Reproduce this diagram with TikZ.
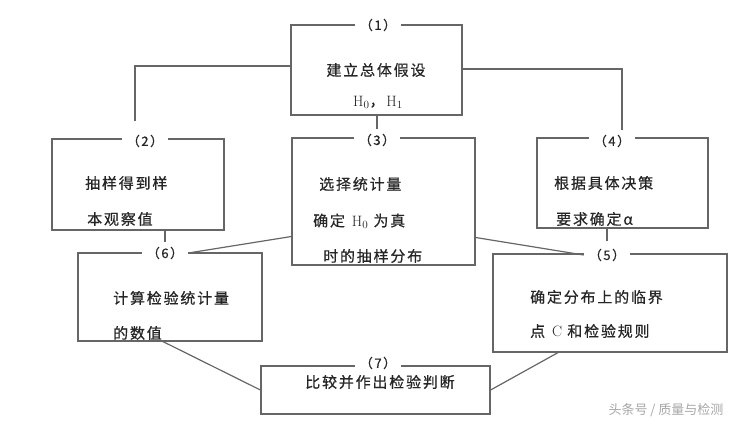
\documentclass[tikz,border=0pt]{standalone}
\usepackage{fontspec}
\newfontfamily\cjk[LetterSpace=12,FakeBold=0.6]{Noto Sans CJK SC}
\newfontfamily\cjkwm{Noto Sans CJK SC}
\begin{document}
\begin{tikzpicture}[x=1pt,y=-1pt,
  box/.style={draw=black!60,line width=1.2pt,inner sep=0pt},
  tag/.style={fill=white,inner xsep=5pt,inner ysep=1pt,text=black!85,font=\cjk\fontsize{13}{13}\selectfont},
  txt/.style={anchor=west,inner sep=0pt,text=black!85,font=\cjk\fontsize{15}{15}\selectfont},
  link/.style={draw=black!60,line width=1.2pt}]
\useasboundingbox (0,0) rectangle (750,427);
\node[box,minimum width=171pt,minimum height=90pt] (s1) at (376.5,70) {};
\node[box,minimum width=172pt,minimum height=91pt] (s2) at (138,184.5) {};
\node[box,minimum width=183pt,minimum height=127pt] (s3) at (383.5,201.5) {};
\node[box,minimum width=171pt,minimum height=90pt] (s4) at (622.5,183) {};
\node[box,minimum width=184pt,minimum height=88pt] (s6) at (170,297) {};
\node[box,minimum width=234pt,minimum height=98pt] (s5) at (610,303) {};
\node[box,minimum width=229pt,minimum height=48pt] (s7) at (375.5,390) {};
\node[tag] (n1) at (378,25) {（1）};
\node[tag] (n2) at (145,141) {（2）};
\node[tag] (n3) at (377,140) {（3）};
\node[tag] (n4) at (612,141) {（4）};
\node[tag] (n6) at (165,253) {（6）};
\node[tag] (n5) at (607,255) {（5）};
\node[tag] (n7) at (378,363) {（7）};
\node[txt,anchor=center] (t1a) at (376,70) {建立总体假设};
\node[txt,anchor=center] (t1b) at (378,102) {\textrm{H}$_0$，\textrm{H}$_1$};
\node[txt] (t2a) at (85,183) {抽样得到样};
\node[txt] (t2b) at (87,219) {本观察值};
\node[txt] (t3a) at (319,184) {选择统计量};
\node[txt] (t3b) at (313,221) {确定 \textrm{H}$_0$ 为真};
\node[txt] (t3c) at (323,256) {时的抽样分布};
\node[txt] (t4a) at (554,183) {根据具体决策};
\node[txt] (t4b) at (556,219) {要求确定α};
\node[txt] (t6a) at (113,298) {计算检验统计量};
\node[txt] (t6b) at (113,333) {的数值};
\node[txt] (t5a) at (530,297) {确定分布上的临界};
\node[txt] (t5b) at (530,331) {点 \textrm{C} 和检验规则};
\node[txt,anchor=center] (t7) at (380,382) {比较并作出检验判断};
\node[txt,anchor=center,text=black!35,font=\cjkwm\fontsize{13}{13}\selectfont] (wm) at (666,410) {头条号 / 质量与检测};
\coordinate (c2) at (135,121);
\coordinate (c4) at (622,130);
\draw[link] ([yshift=4pt]s1.west) -| (c2);
\draw[link] ([yshift=1pt]s1.east) -| (c4);
\draw[link] (s1.south -| n3) -- ++(0,13);
\draw[link] (s2.south -| n6) -- ++(0,11);
\draw[link] (s4.south -| n5) -- ++(0,12);
\draw[link] ([yshift=-35pt]s3.west) -- (n6.east);
\draw[link] ([yshift=-36pt]s3.east) -- (n5.west);
\draw[link] ([xshift=-7pt]s6.south) -- (s7.west);
\draw[link] ([xshift=-52pt]s5.south) -- (s7.east);
\end{tikzpicture}
\end{document}
